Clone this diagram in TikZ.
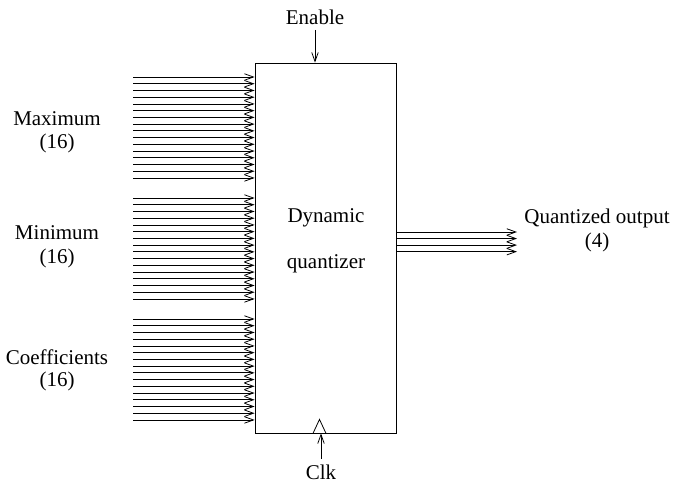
\documentclass[tikz,border=0pt]{standalone}
\usepackage{fontspec}
\setmainfont{Liberation Serif}
\usetikzlibrary{arrows.meta}

\begin{document}
\begin{tikzpicture}[x=1pt,y=-1pt,
    >={Straight Barb[length=9pt,width=6.5pt]},
    line width=0.8pt,
    every node/.style={font=\fontsize{21}{25}\selectfont}]

    \useasboundingbox (0,0) rectangle (681,491);

    \node[rectangle,
          draw,
          inner sep = 0pt,
          minimum width = 141pt,
          minimum height = 370pt
          ] (quant) at (325.5,248) {};
    \node[] (dyn) at (326,218) {Dynamic};
    \node[] (qzr) at (326,264) {quantizer};

    % input buses
    \node[] (max) at (57,119) {Maximum};
    \node[] (maxn) at (57,143) {(16)};
    \node[] (min) at (57,233) {Minimum};
    \node[] (minn) at (57,258) {(16)};
    \node[] (coef) at (57,357) {Coefficients};
    \node[] (coefn) at (57,381) {(16)};

    \foreach \grp/\ytop in {1/77,2/198,3/319}{
      \foreach \i in {0,...,15}{
        \coordinate (in\grp-\i) at (133,\ytop+6.73*\i);
        \draw[->] (in\grp-\i) -- (in\grp-\i -| quant.west);
      }
    }

    % output bus
    \node[] (qout) at (597,218) {Quantized output};
    \node[] (qoutn) at (597,242) {(4)};
    \foreach \i in {0,...,3}{
      \coordinate (out\i) at (517,232+6.55*\i);
      \draw[->] (out\i -| quant.east) -- (out\i);
    }

    % control
    \node[inner sep = 5pt] (en) at (315,17) {Enable};
    \draw[->] (en.south) -- (en.south |- quant.north);

    \node[inner sep = 5pt] (clk) at (321,472) {Clk};
    \draw[->] (clk.north) -- (clk.north |- quant.south);
    \draw ([xshift=-12.5pt]quant.south) -- ([xshift=-6pt,yshift=14pt]quant.south)
          -- ([xshift=0.5pt]quant.south);

\end{tikzpicture}
\end{document}
